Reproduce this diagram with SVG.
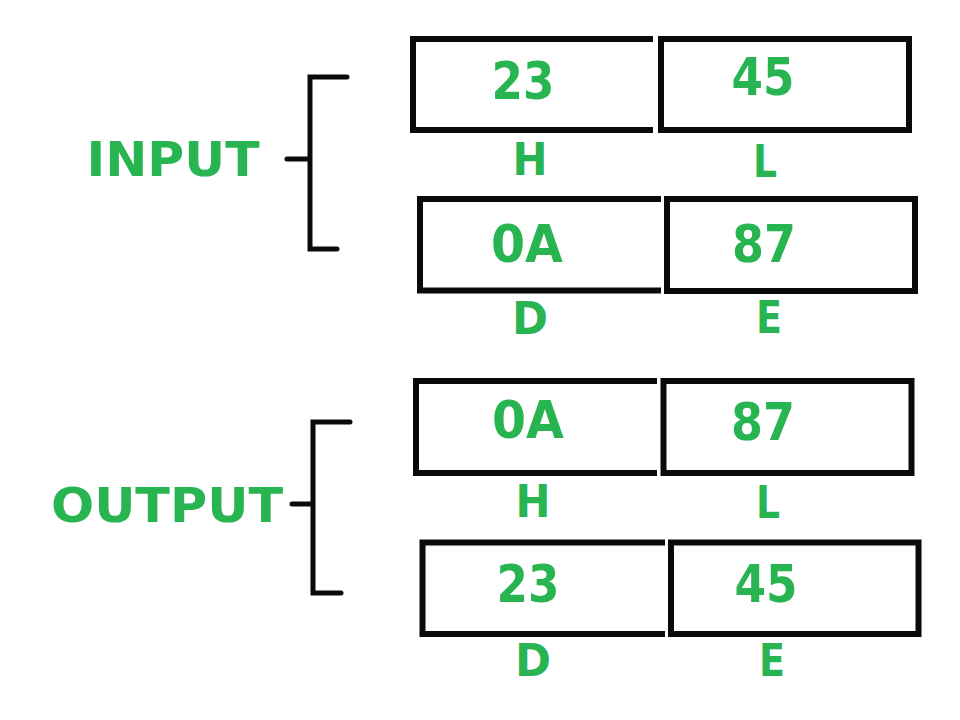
<svg xmlns="http://www.w3.org/2000/svg" width="960" height="720" viewBox="0 0 960 720">
<style>
.box{fill:none;stroke:#0a0a0a;stroke-width:6;stroke-linecap:butt;stroke-linejoin:miter}
.br{fill:none;stroke:#0a0a0a;stroke-width:5;stroke-linecap:round;stroke-linejoin:miter}
.v{font-family:"DejaVu Sans","Liberation Sans",sans-serif;font-weight:bold;font-size:51px;fill:#29b452;text-anchor:middle}
.r{font-family:"DejaVu Sans","Liberation Sans",sans-serif;font-weight:bold;font-size:45px;fill:#29b452;text-anchor:middle}
.t{font-family:"DejaVu Sans","Liberation Sans",sans-serif;font-weight:bold;font-size:48px;fill:#29b452;text-anchor:middle}
</style>
<rect width="960" height="720" fill="#ffffff"/>
<g id="connectors">
<path class="br" d="M347 77 H310 V249 H337 M287 159 H310"/>
<path class="br" d="M350 422 H313 V593 H341 M292 504 H313"/>
</g>
<g id="input-label"><text class="t" x="173" y="176" textLength="173" lengthAdjust="spacingAndGlyphs">INPUT</text></g>
<g id="output-label"><text class="t" x="167" y="522" textLength="232" lengthAdjust="spacingAndGlyphs">OUTPUT</text></g>
<g id="in-H">
<path class="box" d="M653 39 H413 V130 H653"/>
<text class="v" x="523" y="99" textLength="63" lengthAdjust="spacingAndGlyphs">23</text>
<text class="r" x="530" y="175" textLength="35" lengthAdjust="spacingAndGlyphs">H</text>
</g>
<g id="in-L">
<rect class="box" x="661" y="39" width="248" height="91"/>
<text class="v" x="763" y="95" textLength="63" lengthAdjust="spacingAndGlyphs">45</text>
<text class="r" x="765" y="177" textLength="24" lengthAdjust="spacingAndGlyphs">L</text>
</g>
<g id="in-D">
<path class="box" d="M661 199 H420 V290.5 H661"/>
<text class="v" x="527" y="262" textLength="72" lengthAdjust="spacingAndGlyphs">0A</text>
<text class="r" x="530" y="334" textLength="36" lengthAdjust="spacingAndGlyphs">D</text>
</g>
<g id="in-E">
<rect class="box" x="667" y="199" width="248" height="92"/>
<text class="v" x="764" y="262" textLength="64" lengthAdjust="spacingAndGlyphs">87</text>
<text class="r" x="769" y="333" textLength="26" lengthAdjust="spacingAndGlyphs">E</text>
</g>
<g id="out-H">
<path class="box" d="M657 381 H416 V473 H657"/>
<text class="v" x="528" y="438" textLength="72" lengthAdjust="spacingAndGlyphs">0A</text>
<text class="r" x="533" y="517" textLength="35" lengthAdjust="spacingAndGlyphs">H</text>
</g>
<g id="out-L">
<rect class="box" x="663.5" y="381" width="248" height="92"/>
<text class="v" x="763" y="440" textLength="64" lengthAdjust="spacingAndGlyphs">87</text>
<text class="r" x="768" y="518" textLength="24" lengthAdjust="spacingAndGlyphs">L</text>
</g>
<g id="out-D">
<path class="box" d="M665 542.5 H422.5 V634 H665"/>
<text class="v" x="528" y="602" textLength="63" lengthAdjust="spacingAndGlyphs">23</text>
<text class="r" x="533" y="676" textLength="36" lengthAdjust="spacingAndGlyphs">D</text>
</g>
<g id="out-E">
<rect class="box" x="671" y="542.5" width="247.5" height="91.5"/>
<text class="v" x="766" y="602" textLength="63" lengthAdjust="spacingAndGlyphs">45</text>
<text class="r" x="772" y="676" textLength="26" lengthAdjust="spacingAndGlyphs">E</text>
</g>
</svg>
